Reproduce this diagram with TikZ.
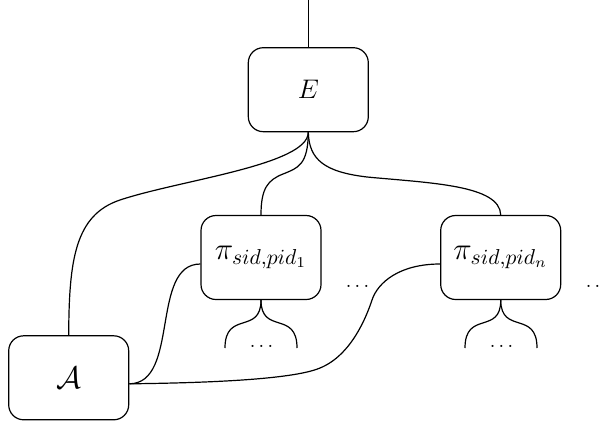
\documentclass[tikz,border=0pt]{standalone}
\begin{document}
\begin{tikzpicture}[x=0.5pt,y=-0.5pt,
  box/.style={draw, rounded corners=7.5pt, minimum width=60pt, minimum height=42pt, inner sep=0pt, line width=0.6pt},
  wire/.style={line width=0.6pt},
  dotsnode/.style={inner sep=0pt}]
\useasboundingbox (0,0) rectangle (604,423);
\node[box] (E) at (308.3,89.7) {\scalebox{1.12}{\large $E$}};
\node[box] (A) at (68.7,377.8) {\scalebox{1.08}{\Large $\mathcal{A}$}};
\node[box] (P1) at (261,257.5) {\scalebox{1.08}{\Large $\pi_{sid,pid_1}$}};
\node[box] (Pn) at (500.7,257.5) {\scalebox{1.08}{\Large $\pi_{sid,pid_n}$}};
\node[dotsnode] (d1) at (357.5,286.5) {$\dots$};
\node[dotsnode] (d2) at (597.5,286.5) {$\dots$};
\node[dotsnode] (d3) at (261.5,346.5) {$\dots$};
\node[dotsnode] (d4) at (501.5,346.5) {$\dots$};
\coordinate (top) at (308.3,0);
\coordinate (P1l) at (225,348);
\coordinate (P1r) at (297,348);
\coordinate (Pnl) at (465,348);
\coordinate (Pnr) at (537,348);
% top wire
\draw[wire] (top) -- (E.north);
% E to A
\draw[wire] (E.south) .. controls (308,165) and (180,180) .. (120,200)
  .. controls (75,215) and (69,260) .. (A.north);
% E to P1
\draw[wire] (E.south) .. controls (308,165) and (298,168) .. (283,174)
  .. controls (268,180) and (261,188) .. (P1.north);
% E to Pn
\draw[wire] (E.south) .. controls (309,160) and (325,172) .. (367,177)
  .. controls (430,183) and (500,185) .. (Pn.north);
% A to P1
\draw[wire] ([yshift=-3pt]A.east) .. controls (180,383.5) and (150,264) .. ([yshift=-3.25pt]P1.west);
% A to Pn
\draw[wire] ([yshift=-3pt]A.east) .. controls (200,383) and (292,380) .. (320,368)
  .. controls (352,355) and (367,315) .. (372,300)
  .. controls (378,282) and (400,264) .. ([yshift=-3.25pt]Pn.west);
% branches below P1
\draw[wire] (P1.south) .. controls (261,335) and (225,310) .. (P1l);
\draw[wire] (P1.south) .. controls (261,335) and (297,310) .. (P1r);
% branches below Pn
\draw[wire] (Pn.south) .. controls (501,335) and (465,310) .. (Pnl);
\draw[wire] (Pn.south) .. controls (501,335) and (537,310) .. (Pnr);
\end{tikzpicture}
\end{document}
